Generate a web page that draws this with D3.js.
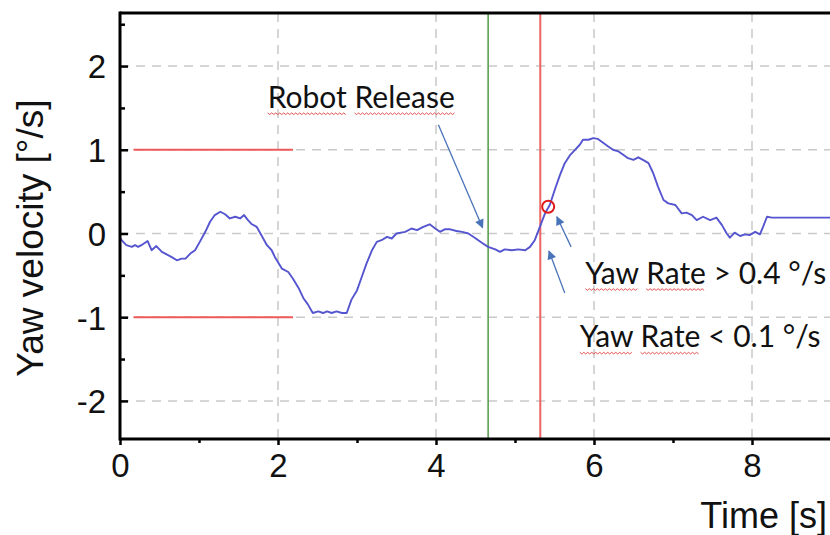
<!DOCTYPE html>
<html><head><meta charset="utf-8">
<script src="https://cdn.jsdelivr.net/npm/d3@7"></script>
<style>html,body{margin:0;padding:0;background:#fff;}svg{display:block;}</style>
</head><body>
<svg id="chart" width="830" height="535"></svg>
<script>
// ---- data ----
const time = [0.00,0.02,0.08,0.15,0.19,0.23,0.27,0.35,0.40,0.46,0.53,0.59,0.65,0.72,0.78,0.83,0.89,0.95,1.01,1.08,1.14,1.20,1.27,1.33,1.39,1.46,1.52,1.57,1.62,1.67,1.73,1.79,1.86,1.92,1.96,2.05,2.13,2.19,2.26,2.32,2.38,2.44,2.51,2.57,2.62,2.68,2.74,2.81,2.87,2.93,3.00,3.06,3.12,3.19,3.25,3.31,3.38,3.44,3.50,3.61,3.69,3.76,3.84,3.92,3.99,4.05,4.11,4.18,4.26,4.33,4.41,4.49,4.58,4.66,4.75,4.81,4.87,4.96,5.04,5.13,5.19,5.25,5.32,5.38,5.44,5.51,5.57,5.63,5.70,5.76,5.82,5.86,5.93,5.99,6.05,6.12,6.18,6.24,6.31,6.37,6.43,6.50,6.56,6.62,6.69,6.75,6.81,6.88,6.94,7.03,7.11,7.17,7.24,7.30,7.38,7.47,7.55,7.62,7.68,7.72,7.78,7.85,7.91,7.97,8.04,8.10,8.14,8.19,8.25,8.31,9.00];
const yawRate = [-0.05,-0.08,-0.14,-0.16,-0.14,-0.16,-0.14,-0.09,-0.20,-0.15,-0.22,-0.25,-0.28,-0.32,-0.30,-0.30,-0.24,-0.20,-0.10,0.02,0.14,0.22,0.26,0.23,0.18,0.20,0.18,0.22,0.16,0.11,0.08,-0.02,-0.14,-0.20,-0.28,-0.42,-0.46,-0.54,-0.65,-0.77,-0.85,-0.95,-0.93,-0.95,-0.93,-0.95,-0.93,-0.95,-0.95,-0.79,-0.68,-0.52,-0.36,-0.20,-0.10,-0.08,-0.04,-0.06,0.00,0.02,0.06,0.04,0.08,0.11,0.06,0.02,0.05,0.05,0.03,0.02,0.00,-0.05,-0.11,-0.16,-0.19,-0.22,-0.19,-0.20,-0.19,-0.20,-0.16,-0.08,0.09,0.24,0.34,0.54,0.70,0.84,0.94,1.00,1.06,1.12,1.12,1.14,1.13,1.08,1.04,1.00,0.98,0.94,0.90,0.88,0.91,0.88,0.84,0.72,0.56,0.40,0.36,0.34,0.24,0.25,0.22,0.16,0.20,0.16,0.19,0.10,0.00,-0.05,0.01,-0.03,-0.01,-0.02,0.02,-0.01,0.08,0.20,0.19,0.19,0.19];
const xTicks = [0, 2, 4, 6, 8];
const xMinorTicks = [1, 3, 5, 7];
const yTicks = [-2, -1, 0, 1, 2];
const yMinorTicks = [-1.5, -0.5, 0.5, 1.5, 2.5];
const thresholds = [1, -1];
const thresholdSpan = [0.17, 2.19];
const releaseTime = 4.66;
const detectTime = 5.32;
const detectPoint = [5.42, 0.32];
const labels = [
  {text: "Robot Release", t: 1.87, v: 1.50, underline: ["Robot", "Release"]},
  {text: "Yaw Rate > 0.4 °/s", t: 5.89, v: -0.60, underline: ["Yaw", "Rate"]},
  {text: "Yaw Rate < 0.1 °/s", t: 5.82, v: -1.36, underline: ["Yaw", "Rate"]}
];
const arrows = [
  {from: [4.03, 1.30], to: [4.59, 0.07]},
  {from: [5.71, -0.16], to: [5.53, 0.20]},
  {from: [5.63, -0.71], to: [5.43, -0.21]}
];

// ---- layout ----
const L = 120, R = 831, T = 13, B = 439;
const svg = d3.select("#chart");
const x = d3.scaleLinear().domain([0, 9]).range([L, R]);
const y = d3.scaleLinear().domain([-2.455, 2.634]).range([B, T]);

svg.append("defs").append("clipPath").attr("id", "clip")
  .append("rect").attr("x", L).attr("y", T).attr("width", R - L).attr("height", B - T);

// grid
const grid = svg.append("g");
grid.selectAll(".gx").data(xTicks.filter(d => d > 0)).join("line")
  .attr("x1", d => x(d)).attr("x2", d => x(d)).attr("y1", T).attr("y2", B)
  .attr("stroke", "#c9c9c9").attr("stroke-width", 1.5).attr("stroke-dasharray", "9,7");
grid.selectAll(".gy").data(yTicks).join("line")
  .attr("x1", L).attr("x2", R).attr("y1", d => y(d)).attr("y2", d => y(d))
  .attr("stroke", "#c9c9c9").attr("stroke-width", 1.5).attr("stroke-dasharray", "9,7");

// threshold lines
svg.append("g").selectAll("line").data(thresholds).join("line")
  .attr("x1", x(thresholdSpan[0])).attr("x2", x(thresholdSpan[1]))
  .attr("y1", d => y(d)).attr("y2", d => y(d))
  .attr("stroke", "#ee5a5a").attr("stroke-width", 2);

// vertical event lines
svg.append("line").attr("x1", x(releaseTime)).attr("x2", x(releaseTime)).attr("y1", T).attr("y2", B)
  .attr("stroke", "#5b9e52").attr("stroke-width", 1.6);
svg.append("line").attr("x1", x(detectTime)).attr("x2", x(detectTime)).attr("y1", T).attr("y2", B)
  .attr("stroke", "#ec6464").attr("stroke-width", 2);

// data line
const pts = time.map((t, i) => [t, yawRate[i]]);
svg.append("path").datum(pts).attr("clip-path", "url(#clip)")
  .attr("fill", "none").attr("stroke", "#5555cf").attr("stroke-width", 1.9)
  .attr("stroke-linejoin", "round")
  .attr("d", d3.line().x(d => x(d[0])).y(d => y(d[1])));

// detection circle
svg.append("circle").attr("cx", x(detectPoint[0])).attr("cy", y(detectPoint[1])).attr("r", 6)
  .attr("fill", "none").attr("stroke", "#e01818").attr("stroke-width", 2);

// axes
const yAxis = d3.axisLeft(y).tickValues(yTicks).tickSize(-8).tickPadding(14).tickFormat(d => String(d));
const gy = svg.append("g").attr("transform", `translate(${L},0)`).call(yAxis);
const yMinor = d3.axisLeft(y).tickValues(yMinorTicks).tickSize(-5).tickFormat("");
svg.append("g").attr("transform", `translate(${L},0)`).call(yMinor).select(".domain").remove();
const xAxis = d3.axisBottom(x).tickValues(xTicks).tickSize(6).tickPadding(9).tickFormat(d => String(d));
const gx = svg.append("g").attr("transform", `translate(0,${B})`).call(xAxis);
const xMinor = d3.axisBottom(x).tickValues(xMinorTicks).tickSize(4).tickFormat("");
svg.append("g").attr("transform", `translate(0,${B})`).call(xMinor).select(".domain").remove();
svg.selectAll(".tick line").attr("stroke", "#000").attr("stroke-width", 2.5);
gy.select(".domain").remove(); gx.select(".domain").remove();
[gx, gy].forEach(g => g.selectAll("text").attr("font-family", "'Liberation Sans', Arial, sans-serif")
  .attr("font-size", 33).attr("fill", "#111"));
gy.selectAll("text").attr("dy", "0.36em");
// spines
svg.append("line").attr("x1", L).attr("x2", L).attr("y1", T - 1.5).attr("y2", B + 1.5).attr("stroke", "#000").attr("stroke-width", 3);
svg.append("line").attr("x1", L).attr("x2", 830).attr("y1", B).attr("y2", B).attr("stroke", "#000").attr("stroke-width", 3);
svg.append("line").attr("x1", L).attr("x2", 830).attr("y1", T).attr("y2", T).attr("stroke", "#000").attr("stroke-width", 3);

// axis titles
svg.append("text").attr("transform", `translate(43,${(B + T) / 2 + 12}) rotate(-90)`)
  .attr("text-anchor", "middle").attr("font-family", "'Liberation Sans', Arial, sans-serif")
  .attr("font-size", 37).attr("fill", "#111").text("Yaw velocity [°/s]");
svg.append("text").attr("x", 827).attr("y", 528).attr("text-anchor", "end")
  .attr("font-family", "'Liberation Sans', Arial, sans-serif").attr("font-size", 36)
  .attr("fill", "#111").text("Time [s]");

// arrows
const defs = svg.select("defs");
defs.append("marker").attr("id", "ah").attr("viewBox", "0 0 10 10").attr("refX", 9).attr("refY", 5)
  .attr("markerWidth", 11).attr("markerHeight", 9).attr("markerUnits", "userSpaceOnUse").attr("orient", "auto")
  .append("path").attr("d", "M0,0 L10,5 L0,10 Z").attr("fill", "#4a74b8");
svg.append("g").selectAll("line").data(arrows).join("line")
  .attr("x1", d => x(d.from[0])).attr("y1", d => y(d.from[1]))
  .attr("x2", d => x(d.to[0])).attr("y2", d => y(d.to[1]))
  .attr("stroke", "#4a74b8").attr("stroke-width", 1.3).attr("marker-end", "url(#ah)");

// annotation labels with wavy underline
labels.forEach(lab => {
  const tx = svg.append("text").attr("x", x(lab.t)).attr("y", y(lab.v))
    .attr("font-family", "Lato, 'Open Sans', sans-serif").attr("font-size", 30)
    .attr("fill", "#111").text(lab.text);
  const node = tx.node();
  lab.underline.forEach(w => {
    const idx = lab.text.indexOf(w);
    const x0 = x(lab.t) + (idx > 0 ? node.getSubStringLength(0, idx) : 0);
    const wl = node.getSubStringLength(idx, w.length);
    const yb = y(lab.v) + 5;
    let d = `M${x0},${yb}`;
    for (let xx = x0 + 2, k = 0; xx <= x0 + wl; xx += 2, k++) d += ` L${xx},${yb + (k % 2 ? 0 : 1.6)}`;
    svg.append("path").attr("d", d).attr("fill", "none").attr("stroke", "#e04040").attr("stroke-width", 0.9);
  });
});
</script>
</body></html>
